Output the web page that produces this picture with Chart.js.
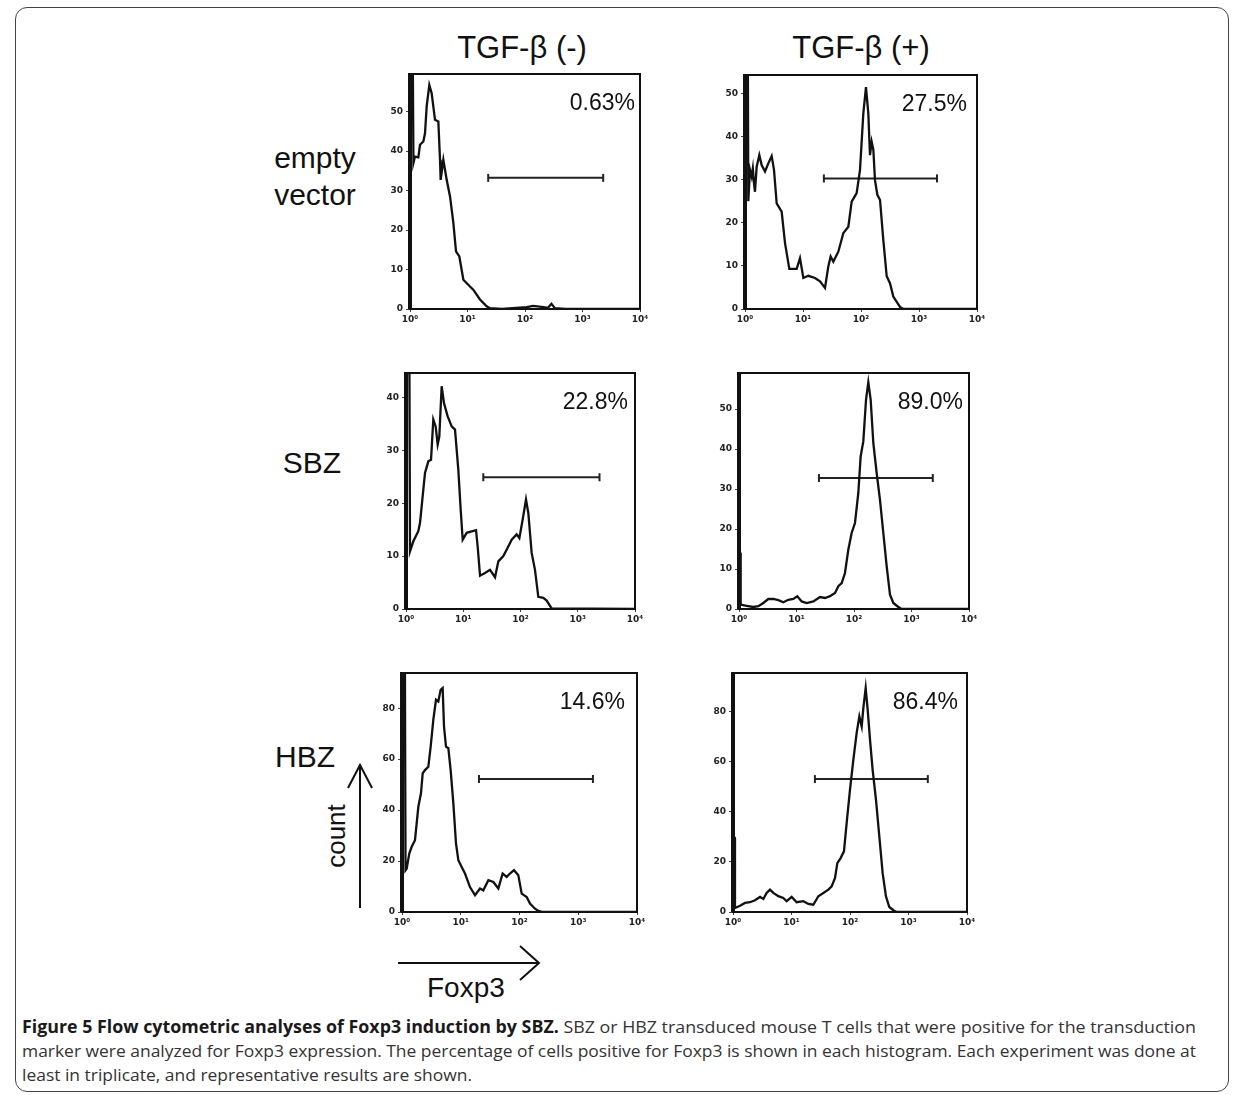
<!DOCTYPE html>
<html>
<head>
<meta charset="utf-8">
<script src="https://cdn.jsdelivr.net/npm/chart.js@4.4.1/dist/chart.umd.min.js"></script>
<style>
body { margin: 0; background: #fff; }
#page { position: relative; width: 1234px; height: 1095px; overflow: hidden; font-family: "Liberation Sans", Arial, sans-serif; color: #111; }
.frame { position: absolute; left: 15px; top: 7px; width: 1214px; height: 1085px; border: 1.5px solid #444; border-radius: 12px; box-sizing: border-box; }
.lbl { position: absolute; white-space: nowrap; line-height: 1; }
.ctr { transform: translateX(-50%); }
.panel { position: absolute; }
.caption { position: absolute; left: 22px; top: 1015px; font-family: "Open Sans", sans-serif; font-size: 17px; line-height: 24px; color: #333; }
.caption div { white-space: nowrap; display: table; transform-origin: 0 0; }
.caption b { color: #1a1a1a; }
</style>
</head>
<body>
<div id="page">
  <div class="frame"></div>
  <svg width="1234" height="1095" style="position:absolute;left:0;top:0">
    <g stroke="#111" stroke-width="2" fill="none">
      <path d="M360 908 V765 M348 788 L360 765 L372 788"/>
      <path d="M398 963 H539 M520 946 L539 963 L520 980"/>
    </g>
  </svg>
  <div class="caption">
    <div id="cap1"><b>Figure 5 Flow cytometric analyses of Foxp3 induction by SBZ.</b> SBZ or HBZ transduced mouse T cells that were positive for the transduction</div>
    <div id="cap2">marker were analyzed for Foxp3 expression. The percentage of cells positive for Foxp3 is shown in each histogram. Each experiment was done at</div>
    <div id="cap3">least in triplicate, and representative results are shown.</div>
  </div>
</div>
<script>
// labels
var colLabels = ['TGF-β (-)', 'TGF-β (+)'];
var rowLabels = ['empty', 'vector', 'SBZ', 'HBZ'];
var axisLabels = ['count', 'Foxp3'];
var percents = ['0.63%', '27.5%', '22.8%', '89.0%', '14.6%', '86.4%'];
var sup = ['\u2070', '\u00b9', '\u00b2', '\u00b3', '\u2074'];

// histogram data: x in decades (10^x), y = count
var emptyMinusX = [0, 0, 0.05, 0.06, 0.087, 0.145, 0.174, 0.232, 0.261, 0.29, 0.336, 0.377, 0.435, 0.493, 0.522, 0.533, 0.58, 0.638, 0.696, 0.754, 0.8, 0.858, 0.928, 1.043, 1.1, 1.217, 1.333, 1.391, 1.6, 2.03, 2.14, 2.32, 2.4, 2.46, 2.52, 2.7, 4];
var emptyMinusY = [0, 59.5, 59.5, 37, 38.6, 38.4, 41.6, 42.4, 44.5, 51.3, 56.7, 54.6, 47.9, 47.5, 37.8, 32.7, 37.8, 32.7, 28.5, 21.8, 14.6, 13.3, 7.4, 5.7, 4.9, 2.4, 0.7, 0.2, 0, 0.5, 0.8, 0.5, 0.3, 1.3, 0.2, 0, 0];

var emptyPlusX = [0, 0, 0.05, 0.057, 0.086, 0.115, 0.135, 0.155, 0.172, 0.201, 0.247, 0.287, 0.345, 0.402, 0.46, 0.5, 0.546, 0.632, 0.69, 0.764, 0.891, 0.948, 1.006, 1.092, 1.207, 1.293, 1.379, 1.437, 1.477, 1.523, 1.609, 1.695, 1.782, 1.839, 1.925, 1.983, 2.04, 2.086, 2.126, 2.155, 2.184, 2.213, 2.241, 2.282, 2.328, 2.385, 2.443, 2.5, 2.557, 2.672, 2.73, 4];
var emptyPlusY = [0, 54.3, 54.3, 25, 32.3, 30.7, 32.6, 29.2, 27.2, 33, 35.7, 33.4, 31.9, 33.8, 35.5, 32.3, 24.5, 22.6, 15.3, 9.3, 9.3, 11.8, 7.2, 7.7, 7.2, 6.4, 4.9, 9.9, 12.2, 11, 13.3, 17.6, 19.1, 24.9, 26.9, 32.3, 45.4, 51.5, 45.4, 35.7, 38.8, 36.9, 29.9, 26.5, 25.3, 16, 7.6, 6, 2.9, 0.5, 0, 0];

var sbzMinusX = [0, 0, 0.06, 0.07, 0.128, 0.215, 0.245, 0.303, 0.332, 0.39, 0.437, 0.477, 0.518, 0.553, 0.582, 0.623, 0.664, 0.728, 0.798, 0.856, 0.914, 0.955, 0.99, 1.06, 1.223, 1.252, 1.293, 1.38, 1.467, 1.555, 1.613, 1.7, 1.758, 1.846, 1.933, 1.98, 2.038, 2.096, 2.137, 2.195, 2.253, 2.311, 2.399, 2.457, 2.544, 4];
var sbzMinusY = [0, 44.6, 44.6, 10.9, 12.8, 14.7, 16.3, 22.6, 25.7, 27.9, 28.2, 35.8, 34.5, 31.1, 32.6, 42.1, 38.9, 36.4, 34.5, 33.9, 26.3, 18.8, 13.1, 14.4, 14.9, 11.8, 6.3, 6.8, 7.4, 6.0, 9.0, 10.0, 11.2, 13.1, 14.1, 13.4, 16.9, 20.7, 18.1, 10.6, 7.4, 2.3, 2.1, 1.6, 0.1, 0];

var sbzPlusX = [0, 0, 0.02, 0.029, 0.133, 0.249, 0.336, 0.423, 0.51, 0.597, 0.684, 0.771, 0.858, 0.945, 1.014, 1.09, 1.177, 1.293, 1.409, 1.496, 1.583, 1.67, 1.728, 1.786, 1.843, 1.901, 1.959, 2.017, 2.075, 2.116, 2.162, 2.209, 2.249, 2.29, 2.336, 2.394, 2.452, 2.51, 2.568, 2.626, 2.684, 2.771, 2.829, 4];
var sbzPlusY = [0, 14, 14, 1.1, 0.8, 0.5, 0.7, 1.5, 2.5, 2.5, 2.2, 1.7, 2.3, 2.5, 3.2, 1.9, 1.5, 1.9, 3, 2.75, 3.2, 4, 5.7, 6.5, 9, 14.8, 19, 21.5, 29, 38.2, 41.9, 52.3, 56.7, 52.3, 41.5, 34, 27.3, 19, 10.7, 3.6, 1.5, 0.5, 0, 0];

var hbzMinusX = [0, 0, 0.05, 0.06, 0.079, 0.125, 0.165, 0.221, 0.278, 0.323, 0.352, 0.391, 0.448, 0.488, 0.533, 0.579, 0.618, 0.658, 0.692, 0.715, 0.749, 0.789, 0.828, 0.874, 0.919, 0.959, 1.016, 1.072, 1.157, 1.243, 1.328, 1.384, 1.47, 1.555, 1.64, 1.713, 1.782, 1.838, 1.906, 1.98, 2.037, 2.122, 2.179, 2.264, 2.321, 2.4, 4];
var hbzMinusY = [0, 93.8, 93.8, 16.4, 17, 23, 25.6, 28.2, 41.3, 46.6, 54.4, 55.7, 57, 64.9, 75.4, 83.3, 82.6, 87.2, 87.9, 72.8, 64.9, 64.3, 55.7, 42.6, 26.9, 20.3, 17.7, 15.1, 9.8, 6.6, 9.2, 8.5, 12.5, 11.8, 9.2, 15.1, 13.8, 15.1, 16.4, 14.4, 7.2, 5.9, 3.3, 1.3, 0.4, 0, 0];

var hbzPlusX = [0, 0, 0.03, 0.034, 0.12, 0.205, 0.291, 0.376, 0.462, 0.519, 0.575, 0.632, 0.689, 0.775, 0.86, 0.917, 1.003, 1.088, 1.202, 1.288, 1.373, 1.459, 1.544, 1.63, 1.687, 1.744, 1.783, 1.84, 1.897, 1.943, 2.0, 2.057, 2.114, 2.16, 2.2, 2.228, 2.268, 2.302, 2.342, 2.387, 2.444, 2.501, 2.558, 2.615, 2.672, 2.741, 2.8, 4];
var hbzPlusY = [0, 29.5, 29.5, 1.6, 2.5, 3.6, 3.9, 4.7, 6.0, 5.2, 7.6, 8.9, 7.6, 6.3, 5.6, 4.3, 6.0, 3.9, 4.3, 3.2, 2.9, 6.3, 7.6, 8.9, 10.2, 13.6, 19.5, 21.5, 24.2, 35.5, 48.8, 60.7, 71.4, 78.0, 74.0, 81.3, 89.3, 80.7, 68.7, 56.7, 44.8, 30.2, 15.5, 6.2, 2.0, 0.7, 0, 0];

// gates and axis ranges, panel order: row by row, left (-) then right (+)
var gateFrom = [1.36, 1.36, 1.35, 1.39, 1.31, 1.40];
var gateTo = [3.36, 3.31, 3.38, 3.37, 3.25, 3.33];
var gateLevel = [33.2, 30.3, 24.9, 32.75, 52.2, 53];
var yMax = [59.5, 54.3, 44.6, 59, 93.8, 95.3];
var yStep = [10, 10, 10, 10, 20, 20];

var seriesX = [emptyMinusX, emptyPlusX, sbzMinusX, sbzPlusX, hbzMinusX, hbzPlusX];
var seriesY = [emptyMinusY, emptyPlusY, sbzMinusY, sbzPlusY, hbzMinusY, hbzPlusY];

// plot boxes on the page
var boxes = [
    { l: 410, t: 74, r: 640, b: 309, dx: 5 },
    { l: 745, t: 75, r: 977, b: 309, dx: 10 },
    { l: 406, t: 373, r: 635, b: 609, dx: 7 },
    { l: 739, t: 373, r: 969, b: 609, dx: 6 },
    { l: 402, t: 673, r: 637, b: 912, dx: 12 },
    { l: 733, t: 673, r: 967, b: 912, dx: 9 }
];

var page = document.getElementById('page');

function addLabel(text, x, top, size, center, extra) {
    var d = document.createElement('div');
    d.className = 'lbl' + (center ? ' ctr' : '');
    d.textContent = text;
    d.style.left = x + 'px';
    d.style.top = top + 'px';
    d.style.fontSize = size + 'px';
    if (extra) d.style.transform = extra;
    page.appendChild(d);
}

addLabel(colLabels[0], 522, 32, 31, true);
addLabel(colLabels[1], 861, 32, 31, true);
addLabel(rowLabels[0], 315, 143, 30, true);
addLabel(rowLabels[1], 315, 180, 30, true);
addLabel(rowLabels[2], 312, 448, 30, true);
addLabel(rowLabels[3], 305, 742, 30, true);
addLabel(axisLabels[0], 336, 823, 26, false, 'translate(-50%, 0) rotate(-90deg)');
addLabel(axisLabels[1], 427, 974, 28, false);

var frameBox = {
    id: 'frameBox',
    afterDatasetsDraw: function (chart) {
        var a = chart.chartArea, ctx = chart.ctx;
        var o = chart.options.plugins.frameBox;
        ctx.save();
        ctx.strokeStyle = '#111';
        ctx.lineWidth = 2;
        ctx.strokeRect(a.left, a.top, a.right - a.left, a.bottom - a.top);
        ctx.lineWidth = 4;
        ctx.beginPath();
        ctx.moveTo(a.left, a.top - 1);
        ctx.lineTo(a.left, a.bottom);
        ctx.stroke();
        ctx.fillStyle = '#111';
        ctx.font = '23px "Liberation Sans", Arial, sans-serif';
        ctx.textAlign = 'right';
        ctx.textBaseline = 'alphabetic';
        ctx.fillText(o.text, a.right - o.dx, a.top + 36);
        ctx.restore();
    }
};

function makePanel(i) {
    var b = boxes[i];
    var padL = 40, padT = 8, padR = 16, padB = 30;
    var wrap = document.createElement('div');
    wrap.className = 'panel';
    wrap.style.left = (b.l - padL) + 'px';
    wrap.style.top = (b.t - padT) + 'px';
    wrap.style.width = (b.r - b.l + padL + padR) + 'px';
    wrap.style.height = (b.b - b.t + padT + padB) + 'px';
    var cv = document.createElement('canvas');
    wrap.appendChild(cv);
    page.appendChild(wrap);

    var pts = seriesX[i].map(function (x, k) { return { x: x, y: seriesY[i][k] }; });
    var step = yStep[i];
    var tickFont = { family: '"DejaVu Sans", "Liberation Sans", sans-serif', size: 9, weight: 'bold' };

    new Chart(cv, {
        type: 'line',
        data: {
            datasets: [{
                data: pts,
                borderColor: '#111',
                borderWidth: 2.3,
                pointRadius: 0,
                tension: 0
            }, {
                data: [{ x: gateFrom[i], y: gateLevel[i] }, { x: gateTo[i], y: gateLevel[i] }],
                borderColor: '#222',
                borderWidth: 2,
                pointStyle: 'line',
                pointRadius: 4,
                pointRotation: 90,
                pointBorderWidth: 2,
                pointBorderColor: '#222'
            }]
        },
        options: {
            responsive: true,
            maintainAspectRatio: false,
            animation: false,
            devicePixelRatio: 1,
            layout: { padding: { left: 0, top: padT, right: padR, bottom: 0 } },
            plugins: {
                legend: { display: false },
                tooltip: { enabled: false },
                frameBox: { text: percents[i], dx: b.dx }
            },
            scales: {
                x: {
                    type: 'linear',
                    min: 0,
                    max: 4,
                    ticks: {
                        stepSize: 1,
                        autoSkip: false,
                        maxRotation: 0,
                        padding: 2,
                        color: '#222',
                        font: tickFont,
                        callback: function (v) { return '10' + sup[v]; }
                    },
                    grid: { display: true, drawOnChartArea: false, tickLength: 3, color: '#444' },
                    border: { display: false },
                    afterFit: function (s) { s.height = padB; s.paddingLeft = 0; s.paddingRight = 0; }
                },
                y: {
                    min: 0,
                    max: yMax[i],
                    ticks: {
                        stepSize: step,
                        padding: 3,
                        color: '#222',
                        font: tickFont
                    },
                    afterBuildTicks: function (s) {
                        s.ticks = s.ticks.filter(function (t) { return t.value % step === 0; });
                    },
                    grid: { display: true, drawOnChartArea: false, tickLength: 4, color: '#444' },
                    border: { display: false },
                    afterFit: function (s) { s.width = padL; s.paddingTop = 0; s.paddingBottom = 0; }
                }
            }
        },
        plugins: [frameBox]
    });
}

for (var i = 0; i < boxes.length; i++) makePanel(i);

// stretch caption lines to the printed width
function fitLine(id, target) {
    var el = document.getElementById(id);
    var w = el.getBoundingClientRect().width;
    var k = target / w;
    el.style.transform = 'scaleX(' + k + ')';
    return k;
}
var k1 = fitLine('cap1', 1174);
var k2 = fitLine('cap2', 1174);
document.getElementById('cap3').style.transform = 'scaleX(' + k2 + ')';
</script>
</body>
</html>
